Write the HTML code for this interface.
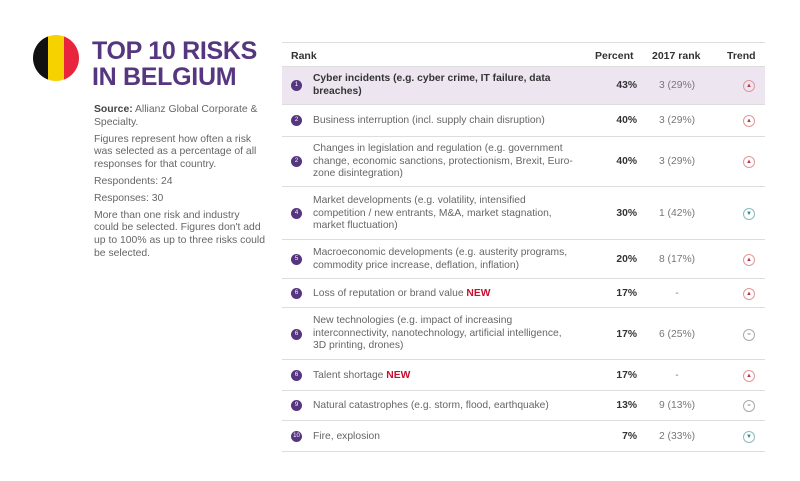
<!DOCTYPE html><html><head><meta charset="utf-8"><style>
body{margin:0;width:800px;height:481px;background:#fff;font-family:"Liberation Sans",sans-serif;position:relative;overflow:hidden;color:#555}
.a{position:absolute}
.flag{left:33px;top:35px;width:46px;height:46px;border-radius:50%;overflow:hidden;display:flex}
.flag div{flex:1}
h1{position:absolute;left:92px;top:38px;margin:0;font-size:25px;line-height:26px;color:#55367f;font-weight:bold;letter-spacing:-0.3px}
.side{left:94px;top:104px;width:172px;font-size:10.4px;line-height:12.8px;color:#666}
.side p{margin:0 0 4px}
.row{position:absolute;left:282px;width:483px;border-bottom:1.5px solid #ddd;font-size:10.3px;line-height:12.5px}
.row .t{position:absolute;left:31px;width:258px;color:#666}
.row .n{position:absolute;left:9px;width:11px;height:11px;border-radius:50%;background:#55367f;color:#fff;font-size:6px;line-height:11px;text-align:center}
.row .p{position:absolute;right:128px;font-weight:bold;color:#333}
.row .r{position:absolute;left:355px;width:80px;text-align:center;color:#777}
.row .i{position:absolute;left:461px;width:10px;height:10px;border:1px solid #d99;border-radius:50%;font-size:6px;line-height:10px;text-align:center;color:#c0334d}
.row .i.e{border-color:#aaa;color:#888}
.row .i.d{border-color:#8bb;color:#2a8a8a}
.new{color:#c8102e;font-weight:bold}
</style></head><body>
<div class="a flag"><div style="background:#111"></div><div style="background:#f6d200"></div><div style="background:#e8253c"></div></div>
<h1>TOP 10 RISKS<br>IN BELGIUM</h1>
<div class="a side"><p><b style="color:#444">Source:</b> Allianz Global Corporate &amp; Specialty.</p><p>Figures represent how often a risk was selected as a percentage of all responses for that country.</p><p>Respondents: 24</p><p>Responses: 30</p><p>More than one risk and industry could be selected. Figures don't add up to 100% as up to three risks could be selected.</p></div>
<div class="a" style="left:282px;top:42px;width:483px;border-top:1.5px solid #ddd"></div>
<div class="row" style="top:44px;height:22px;font-weight:bold;color:#333;font-size:10.5px"><span class="a" style="left:9px;top:6px">Rank</span><span class="a" style="left:313px;top:6px">Percent</span><span class="a" style="left:370px;top:6px">2017 rank</span><span class="a" style="left:445px;top:6px">Trend</span></div>
<div class="row" style="top:67px;height:37px;background:#ede6f1"><span class="n" style="top:13px">1</span><span class="t" style="top:6px;font-weight:bold;color:#333;width:270px">Cyber incidents (e.g. cyber crime, IT failure, data breaches)</span><span class="p" style="top:13px">43%</span><span class="r" style="top:13px">3 (29%)</span><span class="i" style="top:13px">▲</span></div>
<div class="row" style="top:105px;height:31px"><span class="n" style="top:10px">2</span><span class="t" style="top:10px;width:280px">Business interruption (incl. supply chain disruption)</span><span class="p" style="top:10px">40%</span><span class="r" style="top:10px">3 (29%)</span><span class="i" style="top:10px">▲</span></div>
<div class="row" style="top:137px;height:49px"><span class="n" style="top:19px">2</span><span class="t" style="top:6px;width:266px">Changes in legislation and regulation (e.g. government change, economic sanctions, protectionism, Brexit, Euro-zone disintegration)</span><span class="p" style="top:19px">40%</span><span class="r" style="top:19px">3 (29%)</span><span class="i" style="top:19px">▲</span></div>
<div class="row" style="top:188px;height:51px"><span class="n" style="top:20px">4</span><span class="t" style="top:7px;width:250px">Market developments (e.g. volatility, intensified competition / new entrants, M&amp;A, market stagnation, market fluctuation)</span><span class="p" style="top:20px">30%</span><span class="r" style="top:20px">1 (42%)</span><span class="i d" style="top:20px">▼</span></div>
<div class="row" style="top:241px;height:37px"><span class="n" style="top:13px">5</span><span class="t" style="top:6px">Macroeconomic developments (e.g. austerity programs, commodity price increase, deflation, inflation)</span><span class="p" style="top:13px">20%</span><span class="r" style="top:13px">8 (17%)</span><span class="i" style="top:13px">▲</span></div>
<div class="row" style="top:280px;height:27px"><span class="n" style="top:8px">6</span><span class="t" style="top:8px">Loss of reputation or brand value <span class="new">NEW</span></span><span class="p" style="top:8px">17%</span><span class="r" style="top:8px">-</span><span class="i" style="top:8px">▲</span></div>
<div class="row" style="top:309px;height:50px"><span class="n" style="top:20px">6</span><span class="t" style="top:6px;width:262px">New technologies (e.g. impact of increasing interconnectivity, nanotechnology, artificial intelligence, 3D printing, drones)</span><span class="p" style="top:20px">17%</span><span class="r" style="top:20px">6 (25%)</span><span class="i e" style="top:20px">=</span></div>
<div class="row" style="top:361px;height:29px"><span class="n" style="top:9px">6</span><span class="t" style="top:9px">Talent shortage <span class="new">NEW</span></span><span class="p" style="top:9px">17%</span><span class="r" style="top:9px">-</span><span class="i" style="top:9px">▲</span></div>
<div class="row" style="top:391px;height:29px"><span class="n" style="top:9px">9</span><span class="t" style="top:9px;width:280px">Natural catastrophes (e.g. storm, flood, earthquake)</span><span class="p" style="top:9px">13%</span><span class="r" style="top:9px">9 (13%)</span><span class="i e" style="top:9px">=</span></div>
<div class="row" style="top:422px;height:29px"><span class="n" style="top:9px">10</span><span class="t" style="top:9px">Fire, explosion</span><span class="p" style="top:9px">7%</span><span class="r" style="top:9px">2 (33%)</span><span class="i d" style="top:9px">▼</span></div>
</body></html>
